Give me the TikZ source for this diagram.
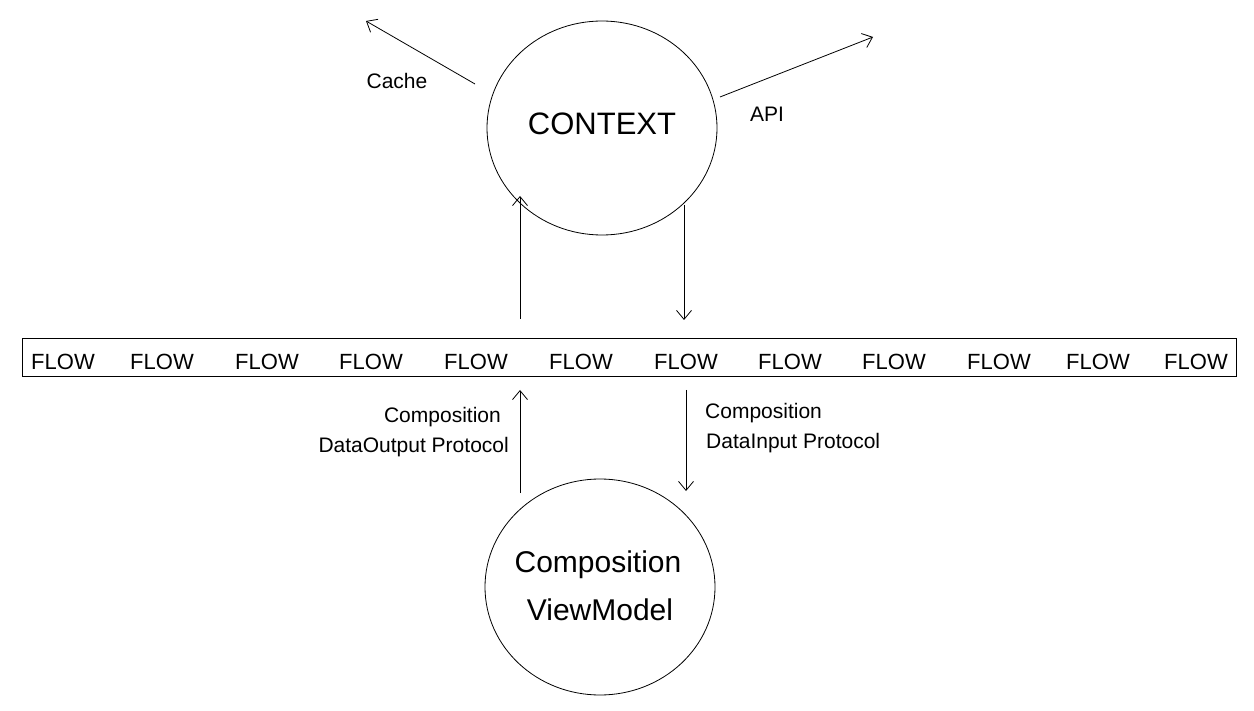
\documentclass[tikz,border=0pt]{standalone}
\usepackage{fontspec}
\setmainfont{Liberation Sans}
\usetikzlibrary{shapes.geometric,arrows.meta}
\begin{document}
\begin{tikzpicture}[x=1pt,y=-1pt,
  oval/.style={draw,ellipse,line width=0.8pt,inner sep=0pt,minimum width=230pt,minimum height=214pt},
  flowtxt/.style={font=\fontsize{22}{26}\selectfont,anchor=base,inner sep=0pt},
  lbl/.style={font=\fontsize{21}{25}\selectfont,inner sep=0pt},
  arr/.style={line width=0.8pt,-{Straight Barb[length=9pt,width=15pt,line width=0.8pt]}}]
\useasboundingbox[fill=white] (0,0) rectangle (1254,711);
% nodes
\node[oval] (ctx) at (602,128) {};
\node[font=\fontsize{31}{36}\selectfont,anchor=base,inner sep=0pt] (ctxt) at (602,135) {CONTEXT};
\node[oval,minimum height=216pt] (vm) at (600,587) {};
\node[font=\fontsize{30}{36}\selectfont,anchor=base,inner sep=0pt] (vm1) at (598,572) {Composition};
\node[font=\fontsize{30}{36}\selectfont,anchor=base,inner sep=0pt] (vm2) at (600,620) {ViewModel};
\node[draw,line width=0.8pt,minimum width=1214pt,minimum height=38pt,inner sep=0pt] (box) at (629,357) {};
\foreach \i/\x in {1/63,2/162,3/267,4/371,5/476,6/581,7/686,8/790,9/894,10/999,11/1098,12/1196}
  \node[flowtxt] (f\i) at (\x,370) {FLOW};
% labels
\node[lbl,anchor=base] (cache) at (397,89) {Cache};
\node[lbl,anchor=base] (api) at (767,122) {API};
\node[lbl,anchor=base east] (l1) at (501,423) {Composition};
\node[lbl,anchor=base east] (l2) at (509,453) {DataOutput Protocol};
\node[lbl,anchor=base west] (r1) at (705,418) {Composition};
\node[lbl,anchor=base west] (r2) at (706,449) {DataInput Protocol};
% free ends
\coordinate (cacheS) at (475,84);
\coordinate (cacheE) at (366,21);
\coordinate (apiS) at (720,97);
\coordinate (apiE) at (873,37);
\coordinate (upTS) at (520,319);
\coordinate (upTE) at (520,196);
\coordinate (dnTS) at (684,205);
\coordinate (dnTE) at (684,320);
\coordinate (upBS) at (520,493);
\coordinate (upBE) at (520,390);
\coordinate (dnBS) at (686,390);
\coordinate (dnBE) at (686,491);
% connectors
\draw[arr] (cacheS) -- (cacheE);
\draw[arr] (apiS) -- (apiE);
\draw[arr] (upTS) -- (upTE);
\draw[arr] (dnTS) -- (dnTE);
\draw[arr] (upBS) -- (upBE);
\draw[arr] (dnBS) -- (dnBE);
\end{tikzpicture}
\end{document}
